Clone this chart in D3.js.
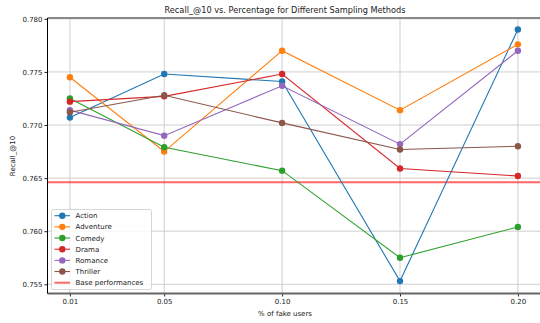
<!DOCTYPE html>
<html><head><meta charset="utf-8">
<script src="https://cdn.jsdelivr.net/npm/d3@7"></script>
<style>body{margin:0;background:#fff}svg{display:block;font-family:"DejaVu Sans",sans-serif}</style>
</head><body><svg id="c" width="540" height="323"></svg>
<script>
const xValues = [0.01, 0.05, 0.10, 0.15, 0.20];
const xTickLabels = ["0.01", "0.05", "0.10", "0.15", "0.20"];
const yTicks = [0.755, 0.760, 0.765, 0.770, 0.775, 0.780];
const seriesNames = ["Action", "Adventure", "Comedy", "Drama", "Romance", "Thriller"];
const seriesColors = ["#1f77b4", "#ff7f0e", "#2ca02c", "#d62728", "#9467bd", "#8c564b"];
const action    = [0.7707, 0.7748, 0.7741, 0.7553, 0.7790];
const adventure = [0.7745, 0.7675, 0.7770, 0.7714, 0.7776];
const comedy    = [0.7725, 0.7679, 0.7657, 0.7575, 0.7604];
const drama     = [0.7722, 0.7727, 0.7748, 0.7659, 0.7652];
const romance   = [0.7714, 0.7690, 0.7737, 0.7682, 0.7770];
const thriller  = [0.7712, 0.7728, 0.7702, 0.7677, 0.7680];
const basePerformance = 0.7646;
const seriesValues = [action, adventure, comedy, drama, romance, thriller];

const svg = d3.select("#c");
const L = 47.5, R = 540.3, T = 18, B = 293.5;
const x = d3.scaleLinear().domain([0.0005, 0.2095]).range([L, R]);
const y = d3.scaleLinear().domain([0.75413, 0.78008]).range([B, T]);

// grid
const g = svg.append("g");
g.selectAll(".gx").data(xValues).join("line")
  .attr("x1", d => x(d)).attr("x2", d => x(d)).attr("y1", T).attr("y2", B)
  .attr("stroke", "#cfcfcf").attr("stroke-width", 1);
g.selectAll(".gy").data(yTicks).join("line")
  .attr("x1", L).attr("x2", R).attr("y1", d => y(d)).attr("y2", d => y(d))
  .attr("stroke", "#cfcfcf").attr("stroke-width", 1);

// base line
svg.append("line").attr("x1", L).attr("x2", R)
  .attr("y1", y(basePerformance)).attr("y2", y(basePerformance))
  .attr("stroke", "#ff0000").attr("stroke-opacity", 0.6).attr("stroke-width", 2);

// series
const line = d3.line().x((d, i) => x(xValues[i])).y(d => y(d));
seriesValues.forEach((vals, si) => {
  svg.append("path").datum(vals).attr("d", line).attr("fill", "none")
    .attr("stroke", seriesColors[si]).attr("stroke-width", 1.1);
  svg.selectAll(".p" + si).data(vals).join("circle")
    .attr("cx", (d, i) => x(xValues[i])).attr("cy", d => y(d)).attr("r", 3.2)
    .attr("fill", seriesColors[si]);
});

// axes
const xAxis = d3.axisBottom(x).tickValues(xValues).tickFormat((d, i) => xTickLabels[i]).tickSize(3).tickPadding(3);
const xa = svg.append("g").attr("transform", `translate(0,${B})`).call(xAxis);
xa.select(".domain").remove();
xa.selectAll("text").attr("font-size", 7).attr("fill", "#222").attr("font-family", "DejaVu Sans");
xa.selectAll("line").attr("stroke", "#222");

const yAxis = d3.axisLeft(y).tickValues(yTicks).tickFormat(d3.format(".3f")).tickSize(3).tickPadding(2);
const ya = svg.append("g").attr("transform", `translate(${L},0)`).call(yAxis);
ya.select(".domain").remove();
ya.selectAll("text").attr("font-size", 7).attr("fill", "#222").attr("font-family", "DejaVu Sans");
ya.selectAll("line").attr("stroke", "#222");

// spines
svg.append("line").attr("x1", L).attr("x2", R).attr("y1", T).attr("y2", T).attr("stroke", "#888").attr("stroke-width", 2);
svg.append("line").attr("x1", L).attr("x2", R).attr("y1", B).attr("y2", B).attr("stroke", "#666").attr("stroke-width", 2);
svg.append("line").attr("x1", L).attr("x2", L).attr("y1", T).attr("y2", B).attr("stroke", "#000").attr("stroke-width", 1);

// title and labels
svg.append("text").attr("x", 285).attr("y", 13).attr("text-anchor", "middle").attr("font-size", 8.2).attr("fill", "#222")
  .text("Recall_@10 vs. Percentage for Different Sampling Methods");
svg.append("text").attr("x", 285).attr("y", 316).attr("text-anchor", "middle").attr("font-size", 7).attr("fill", "#222")
  .text("% of fake users");
svg.append("text").attr("transform", "translate(15,156) rotate(-90)").attr("text-anchor", "middle").attr("font-size", 7).attr("fill", "#222")
  .text("Recall_@10");

// legend
const lg = svg.append("g");
lg.append("rect").attr("x", 51.5).attr("y", 209.5).attr("width", 100).attr("height", 80).attr("rx", 2)
  .attr("fill", "#fff").attr("fill-opacity", 0.8).attr("stroke", "#ccc").attr("stroke-width", 0.8);
const items = seriesNames.map((n, i) => ({name: n, color: seriesColors[i], base: false}))
  .concat([{name: "Base performances", color: "#ff0000", base: true}]);
items.forEach((it, i) => {
  const yy = 215.7 + i * 11.17;
  lg.append("line").attr("x1", 54.5).attr("x2", 70).attr("y1", yy).attr("y2", yy)
    .attr("stroke", it.color).attr("stroke-opacity", it.base ? 0.6 : 1).attr("stroke-width", it.base ? 2 : 1.1);
  if (!it.base) lg.append("circle").attr("cx", 62.3).attr("cy", yy).attr("r", 3.2).attr("fill", it.color);
  lg.append("text").attr("x", 75.5).attr("y", yy + 2.5).attr("font-size", 7).attr("fill", "#222").text(it.name);
});
</script></body></html>
